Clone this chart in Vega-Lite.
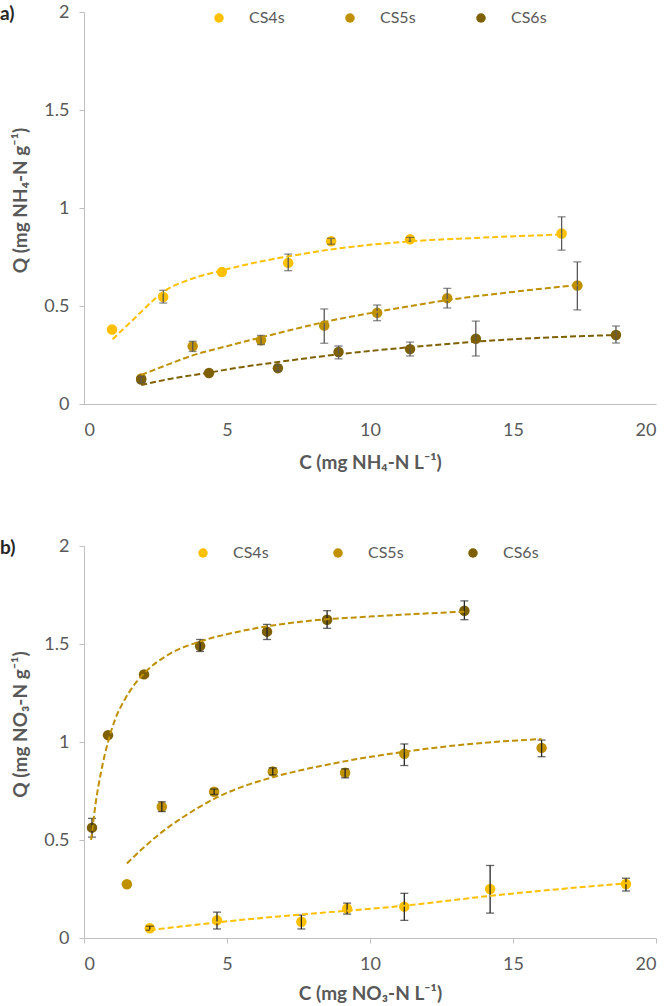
{
  "$schema": "https://vega.github.io/schema/vega-lite/v6.json",
  "autosize": {"type": "pad"},
  "padding": {"top": 3, "left": 0, "right": 0, "bottom": 0},
  "background": "white",
  "bounds": "flush",
  "spacing": 142,
  "config": {
    "view": {"stroke": null},
    "font": "Lato",
    "axis": {
      "labelFont": "Lato", "labelFontSize": 18, "labelColor": "#595959",
      "titleFont": "Lato", "titleFontSize": 19, "titleFontWeight": "bold", "titleColor": "#595959",
      "domainColor": "#BFBFBF", "tickColor": "#BFBFBF", "grid": false
    },
    "legend": {"labelFont": "Lato", "labelFontSize": 16, "labelColor": "#595959"}
  },
  "resolve": {"scale": {"color": "independent"}, "legend": {"color": "independent"}},
  "datasets": {
    "a": [
      {"k": "pt", "s": "CS4s", "x": 0.98, "y": 0.38},
      {"k": "pt", "s": "CS4s", "x": 2.77, "y": 0.546, "lo": 0.515, "hi": 0.58},
      {"k": "pt", "s": "CS4s", "x": 4.82, "y": 0.673},
      {"k": "pt", "s": "CS4s", "x": 7.14, "y": 0.72, "lo": 0.68, "hi": 0.765},
      {"k": "pt", "s": "CS4s", "x": 8.64, "y": 0.83, "lo": 0.815, "hi": 0.845},
      {"k": "pt", "s": "CS4s", "x": 11.4, "y": 0.84, "lo": 0.83, "hi": 0.85},
      {"k": "pt", "s": "CS4s", "x": 16.7, "y": 0.87, "lo": 0.785, "hi": 0.955},
      {"k": "pt", "s": "CS5s", "x": 2.0, "y": 0.13},
      {"k": "pt", "s": "CS5s", "x": 3.8, "y": 0.295, "lo": 0.268, "hi": 0.32},
      {"k": "pt", "s": "CS5s", "x": 6.19, "y": 0.325, "lo": 0.303, "hi": 0.35},
      {"k": "pt", "s": "CS5s", "x": 8.4, "y": 0.4, "lo": 0.31, "hi": 0.485},
      {"k": "pt", "s": "CS5s", "x": 10.25, "y": 0.465, "lo": 0.425, "hi": 0.505},
      {"k": "pt", "s": "CS5s", "x": 12.7, "y": 0.54, "lo": 0.49, "hi": 0.59},
      {"k": "pt", "s": "CS5s", "x": 17.25, "y": 0.605, "lo": 0.48, "hi": 0.725},
      {"k": "pt", "s": "CS6s", "x": 2.0, "y": 0.125, "lo": 0.11, "hi": 0.14},
      {"k": "pt", "s": "CS6s", "x": 4.37, "y": 0.158},
      {"k": "pt", "s": "CS6s", "x": 6.78, "y": 0.183, "lo": 0.168, "hi": 0.198},
      {"k": "pt", "s": "CS6s", "x": 8.9, "y": 0.265, "lo": 0.23, "hi": 0.296},
      {"k": "pt", "s": "CS6s", "x": 11.4, "y": 0.28, "lo": 0.245, "hi": 0.316},
      {"k": "pt", "s": "CS6s", "x": 13.7, "y": 0.333, "lo": 0.245, "hi": 0.423},
      {"k": "pt", "s": "CS6s", "x": 18.6, "y": 0.352, "lo": 0.311, "hi": 0.398},
      {"k": "fit", "s": "CS4s", "x": 1.0, "y": 0.33},
      {"k": "fit", "s": "CS4s", "x": 1.5, "y": 0.40},
      {"k": "fit", "s": "CS4s", "x": 2.0, "y": 0.47},
      {"k": "fit", "s": "CS4s", "x": 2.5, "y": 0.54},
      {"k": "fit", "s": "CS4s", "x": 2.8, "y": 0.575},
      {"k": "fit", "s": "CS4s", "x": 3.6, "y": 0.63},
      {"k": "fit", "s": "CS4s", "x": 4.8, "y": 0.68},
      {"k": "fit", "s": "CS4s", "x": 6.0, "y": 0.722},
      {"k": "fit", "s": "CS4s", "x": 7.1, "y": 0.752},
      {"k": "fit", "s": "CS4s", "x": 8.7, "y": 0.79},
      {"k": "fit", "s": "CS4s", "x": 10.0, "y": 0.812},
      {"k": "fit", "s": "CS4s", "x": 11.4, "y": 0.83},
      {"k": "fit", "s": "CS4s", "x": 13.5, "y": 0.846},
      {"k": "fit", "s": "CS4s", "x": 16.7, "y": 0.865},
      {"k": "fit", "s": "CS5s", "x": 2.0, "y": 0.148},
      {"k": "fit", "s": "CS5s", "x": 3.0, "y": 0.205},
      {"k": "fit", "s": "CS5s", "x": 3.8, "y": 0.248},
      {"k": "fit", "s": "CS5s", "x": 5.0, "y": 0.295},
      {"k": "fit", "s": "CS5s", "x": 6.2, "y": 0.34},
      {"k": "fit", "s": "CS5s", "x": 7.3, "y": 0.38},
      {"k": "fit", "s": "CS5s", "x": 8.4, "y": 0.418},
      {"k": "fit", "s": "CS5s", "x": 10.25, "y": 0.47},
      {"k": "fit", "s": "CS5s", "x": 12.7, "y": 0.53},
      {"k": "fit", "s": "CS5s", "x": 15.0, "y": 0.572},
      {"k": "fit", "s": "CS5s", "x": 17.25, "y": 0.607},
      {"k": "fit", "s": "CS6s", "x": 2.0, "y": 0.097},
      {"k": "fit", "s": "CS6s", "x": 3.0, "y": 0.128},
      {"k": "fit", "s": "CS6s", "x": 4.37, "y": 0.16},
      {"k": "fit", "s": "CS6s", "x": 5.5, "y": 0.188},
      {"k": "fit", "s": "CS6s", "x": 6.78, "y": 0.214},
      {"k": "fit", "s": "CS6s", "x": 8.7, "y": 0.25},
      {"k": "fit", "s": "CS6s", "x": 11.4, "y": 0.29},
      {"k": "fit", "s": "CS6s", "x": 13.7, "y": 0.318},
      {"k": "fit", "s": "CS6s", "x": 16.0, "y": 0.338},
      {"k": "fit", "s": "CS6s", "x": 18.6, "y": 0.352}
    ],
    "b": [
      {"k": "pt", "s": "CS4s", "x": 2.3, "y": 0.05, "lo": 0.04, "hi": 0.06},
      {"k": "pt", "s": "CS4s", "x": 4.65, "y": 0.09, "lo": 0.046, "hi": 0.132},
      {"k": "pt", "s": "CS4s", "x": 7.6, "y": 0.083, "lo": 0.046, "hi": 0.117},
      {"k": "pt", "s": "CS4s", "x": 9.2, "y": 0.15, "lo": 0.122, "hi": 0.178},
      {"k": "pt", "s": "CS4s", "x": 11.2, "y": 0.16, "lo": 0.09, "hi": 0.228},
      {"k": "pt", "s": "CS4s", "x": 14.2, "y": 0.25, "lo": 0.127, "hi": 0.37},
      {"k": "pt", "s": "CS4s", "x": 18.95, "y": 0.275, "lo": 0.24, "hi": 0.305},
      {"k": "pt", "s": "CS5s", "x": 1.5, "y": 0.274},
      {"k": "pt", "s": "CS5s", "x": 2.72, "y": 0.67, "lo": 0.645, "hi": 0.695},
      {"k": "pt", "s": "CS5s", "x": 4.55, "y": 0.746, "lo": 0.732, "hi": 0.76},
      {"k": "pt", "s": "CS5s", "x": 6.6, "y": 0.85, "lo": 0.832, "hi": 0.868},
      {"k": "pt", "s": "CS5s", "x": 9.13, "y": 0.843, "lo": 0.817, "hi": 0.863},
      {"k": "pt", "s": "CS5s", "x": 11.2, "y": 0.94, "lo": 0.88, "hi": 0.99},
      {"k": "pt", "s": "CS5s", "x": 16.0, "y": 0.97, "lo": 0.925, "hi": 1.01},
      {"k": "pt", "s": "CS6s", "x": 0.28, "y": 0.563, "lo": 0.515, "hi": 0.61},
      {"k": "pt", "s": "CS6s", "x": 0.84, "y": 1.035},
      {"k": "pt", "s": "CS6s", "x": 2.1, "y": 1.345},
      {"k": "pt", "s": "CS6s", "x": 4.06, "y": 1.49, "lo": 1.462, "hi": 1.523},
      {"k": "pt", "s": "CS6s", "x": 6.4, "y": 1.563, "lo": 1.523, "hi": 1.6},
      {"k": "pt", "s": "CS6s", "x": 8.5, "y": 1.624, "lo": 1.58, "hi": 1.67},
      {"k": "pt", "s": "CS6s", "x": 13.3, "y": 1.67, "lo": 1.624, "hi": 1.72},
      {"k": "fit", "s": "CS4s", "x": 2.3, "y": 0.04},
      {"k": "fit", "s": "CS4s", "x": 5.0, "y": 0.085},
      {"k": "fit", "s": "CS4s", "x": 8.0, "y": 0.125},
      {"k": "fit", "s": "CS4s", "x": 11.2, "y": 0.165},
      {"k": "fit", "s": "CS4s", "x": 14.2, "y": 0.215},
      {"k": "fit", "s": "CS4s", "x": 19.0, "y": 0.28},
      {"k": "fit", "s": "CS5s", "x": 1.5, "y": 0.38},
      {"k": "fit", "s": "CS5s", "x": 2.0, "y": 0.45},
      {"k": "fit", "s": "CS5s", "x": 2.72, "y": 0.54},
      {"k": "fit", "s": "CS5s", "x": 3.5, "y": 0.62},
      {"k": "fit", "s": "CS5s", "x": 4.55, "y": 0.71},
      {"k": "fit", "s": "CS5s", "x": 5.5, "y": 0.77},
      {"k": "fit", "s": "CS5s", "x": 6.6, "y": 0.82},
      {"k": "fit", "s": "CS5s", "x": 8.7, "y": 0.89},
      {"k": "fit", "s": "CS5s", "x": 11.2, "y": 0.95},
      {"k": "fit", "s": "CS5s", "x": 13.5, "y": 0.99},
      {"k": "fit", "s": "CS5s", "x": 16.0, "y": 1.015},
      {"k": "fit", "s": "CS6s", "x": 0.25, "y": 0.5},
      {"k": "fit", "s": "CS6s", "x": 0.4, "y": 0.68},
      {"k": "fit", "s": "CS6s", "x": 0.6, "y": 0.85},
      {"k": "fit", "s": "CS6s", "x": 0.84, "y": 1.0},
      {"k": "fit", "s": "CS6s", "x": 1.1, "y": 1.12},
      {"k": "fit", "s": "CS6s", "x": 1.4, "y": 1.21},
      {"k": "fit", "s": "CS6s", "x": 1.8, "y": 1.3},
      {"k": "fit", "s": "CS6s", "x": 2.1, "y": 1.35},
      {"k": "fit", "s": "CS6s", "x": 3.0, "y": 1.45},
      {"k": "fit", "s": "CS6s", "x": 4.0, "y": 1.51},
      {"k": "fit", "s": "CS6s", "x": 5.0, "y": 1.55},
      {"k": "fit", "s": "CS6s", "x": 6.0, "y": 1.58},
      {"k": "fit", "s": "CS6s", "x": 8.0, "y": 1.62},
      {"k": "fit", "s": "CS6s", "x": 10.0, "y": 1.64},
      {"k": "fit", "s": "CS6s", "x": 13.3, "y": 1.665}
    ]
  },
  "vconcat": [
    {
      "width": 572, "height": 392,
      "data": {"name": "a"},
      "title": {"text": "a)", "anchor": "start", "frame": "group", "orient": "top", "dx": -84, "dy": 30, "offset": 0, "baseline": "middle", "fontSize": 19, "fontWeight": "bold", "color": "#262626", "font": "Lato"},
      "resolve": {"scale": {"color": "independent"}},
      "layer": [
        {
          "transform": [{"filter": "datum.k === 'pt'"}],
          "mark": {"type": "circle", "size": 110, "opacity": 1},
          "encoding": {
            "x": {"field": "x", "type": "quantitative", "scale": {"domain": [0, 20], "nice": false},
              "axis": {"values": [0, 5, 10, 15, 20], "ticks": false, "labelPadding": 17, "titlePadding": 14}, "title": "C (mg NH₄-N L⁻¹)"},
            "y": {"field": "y", "type": "quantitative", "scale": {"domain": [0, 2], "nice": false},
              "axis": {"values": [0, 0.5, 1, 1.5, 2], "format": "~g", "tickSize": 5, "labelPadding": 10, "titleX": -64, "titleY": 188, "titleBaseline": "middle", "titleAlign": "center"}, "title": "Q (mg NH₄-N g⁻¹)"},
            "color": {"field": "s", "type": "nominal",
              "scale": {"domain": ["CS4s", "CS5s", "CS6s"], "range": ["#FFC000", "#BF9000", "#7F6000"]},
              "legend": {"orient": "none", "legendX": 127, "legendY": -2, "direction": "horizontal", "title": null, "symbolType": "circle", "symbolSize": 90, "symbolStrokeWidth": 0, "labelOffset": 22, "columnPadding": 57}}
          }
        },
        {
          "transform": [{"filter": "datum.k === 'pt' && isValid(datum.lo)"}],
          "mark": {"type": "errorbar", "ticks": {"size": 8}, "color": "#595959", "thickness": 1.3},
          "encoding": {
            "x": {"field": "x", "type": "quantitative", "title": "C (mg NH₄-N L⁻¹)"},
            "y": {"field": "lo", "type": "quantitative", "title": "Q (mg NH₄-N g⁻¹)"},
            "y2": {"field": "hi"}
          }
        },
        {
          "transform": [{"filter": "datum.k === 'fit'"}],
          "mark": {"type": "line", "strokeWidth": 2, "strokeDash": [6, 3], "interpolate": "monotone"},
          "encoding": {
            "x": {"field": "x", "type": "quantitative", "title": "C (mg NH₄-N L⁻¹)"},
            "y": {"field": "y", "type": "quantitative", "title": "Q (mg NH₄-N g⁻¹)"},
            "color": {"field": "s", "type": "nominal",
              "scale": {"domain": ["CS4s", "CS5s", "CS6s"], "range": ["#FFC000", "#BF9000", "#7F6000"]},
              "legend": null}
          }
        }
      ]
    },
    {
      "width": 572, "height": 392,
      "data": {"name": "b"},
      "title": {"text": "b)", "anchor": "start", "frame": "group", "orient": "top", "dx": -84, "dy": 30, "offset": 0, "baseline": "middle", "fontSize": 19, "fontWeight": "bold", "color": "#262626", "font": "Lato"},
      "resolve": {"scale": {"color": "independent"}},
      "layer": [
        {
          "transform": [{"filter": "datum.k === 'pt'"}],
          "mark": {"type": "circle", "size": 110, "opacity": 1},
          "encoding": {
            "x": {"field": "x", "type": "quantitative", "scale": {"domain": [0, 20], "nice": false},
              "axis": {"values": [0, 5, 10, 15, 20], "tickSize": 5, "labelPadding": 12, "titlePadding": 11}, "title": "C (mg NO₃-N L⁻¹)"},
            "y": {"field": "y", "type": "quantitative", "scale": {"domain": [0, 2], "nice": false},
              "axis": {"values": [0, 0.5, 1, 1.5, 2], "format": "~g", "tickSize": 5, "labelPadding": 10, "titleX": -64, "titleY": 178, "titleBaseline": "middle", "titleAlign": "center"}, "title": "Q (mg NO₃-N g⁻¹)"},
            "color": {"field": "s", "type": "nominal",
              "scale": {"domain": ["CS4s", "CS5s", "CS6s"], "range": ["#FFC000", "#BF9000", "#7F6000"]},
              "legend": {"orient": "none", "legendX": 111, "legendY": -1, "direction": "horizontal", "title": null, "symbolType": "circle", "symbolSize": 90, "symbolStrokeWidth": 0, "labelOffset": 22, "columnPadding": 61}}
          }
        },
        {
          "transform": [{"filter": "datum.k === 'pt' && isValid(datum.lo)"}],
          "mark": {"type": "errorbar", "ticks": {"size": 8}, "color": "#262626", "thickness": 1.3},
          "encoding": {
            "x": {"field": "x", "type": "quantitative", "title": "C (mg NO₃-N L⁻¹)"},
            "y": {"field": "lo", "type": "quantitative", "title": "Q (mg NO₃-N g⁻¹)"},
            "y2": {"field": "hi"}
          }
        },
        {
          "transform": [{"filter": "datum.k === 'fit'"}],
          "mark": {"type": "line", "strokeWidth": 2, "strokeDash": [6, 3], "interpolate": "monotone"},
          "encoding": {
            "x": {"field": "x", "type": "quantitative", "title": "C (mg NO₃-N L⁻¹)"},
            "y": {"field": "y", "type": "quantitative", "title": "Q (mg NO₃-N g⁻¹)"},
            "color": {"field": "s", "type": "nominal",
              "scale": {"domain": ["CS4s", "CS5s", "CS6s"], "range": ["#FFC000", "#BF9000", "#BF9000"]},
              "legend": null}
          }
        }
      ]
    }
  ]
}
